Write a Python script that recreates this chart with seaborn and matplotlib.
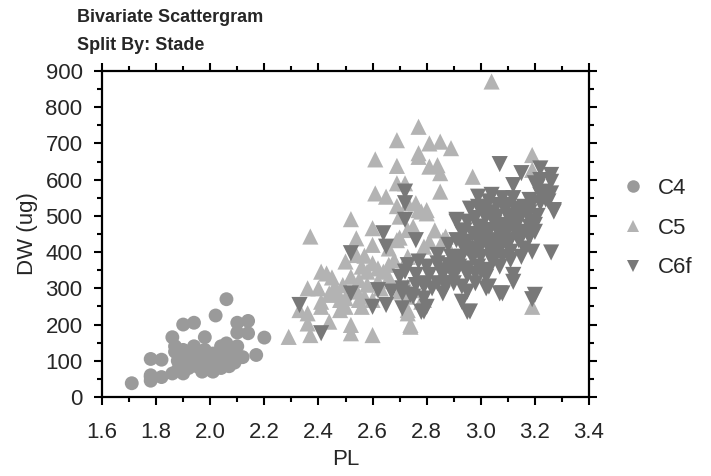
import matplotlib
matplotlib.use("Agg")
import matplotlib.pyplot as plt
from matplotlib.lines import Line2D
from matplotlib.ticker import MultipleLocator
import seaborn as sns
import pandas as pd

# ---- data ----
categories = ["C4", "C5", "C6f"]

c4_pl = [1.71, 1.78, 1.78, 1.78, 1.82, 1.78, 1.82, 1.86, 1.86, 1.87, 1.87, 1.88, 1.90, 1.90, 1.90,
         1.92, 1.94, 1.94, 1.94, 1.95, 1.96, 1.97, 1.98, 1.98, 1.98, 1.99, 2.00, 2.00, 2.01, 2.02,
         2.02, 2.03, 2.04, 2.05, 2.06, 2.06, 2.06, 2.07, 2.08, 2.10, 2.10, 2.10, 2.12, 2.14, 2.14,
         2.17, 2.20, 2.09, 1.92, 1.88, 1.96, 2.04, 2.01]
c4_dw = [38, 45, 60, 105, 103, 55, 55, 65, 165, 140, 125, 75, 200, 130, 65,
         80, 205, 140, 120, 85, 95, 70, 165, 130, 110, 85, 100, 75, 120, 225,
         90, 110, 80, 130, 270, 148, 100, 85, 120, 205, 178, 140, 110, 210, 176,
         116, 164, 95, 105, 100, 115, 140, 70]

c5_pl = [2.29, 2.33, 2.36, 2.36, 2.36, 2.37, 2.37, 2.41, 2.41, 2.41, 2.43, 2.44, 2.44, 2.44, 2.46,
         2.48, 2.49, 2.50, 2.50, 2.50, 2.52, 2.52, 2.52, 2.52, 2.53, 2.54, 2.54, 2.54, 2.55, 2.55,
         2.56, 2.57, 2.58, 2.60, 2.60, 2.60, 2.60, 2.61, 2.61, 2.64, 2.65, 2.68, 2.69, 2.69, 2.69,
         2.69, 2.69, 2.70, 2.70, 2.72, 2.73, 2.73, 2.73, 2.73, 2.73, 2.73, 2.73, 2.74, 2.74, 2.76,
         2.76, 2.77, 2.77, 2.77, 2.77, 2.78, 2.78, 2.79, 2.79, 2.80, 2.81, 2.81, 2.81, 2.84, 2.85,
         2.85, 2.85, 2.86, 2.87, 2.87, 2.89, 2.97, 3.04, 3.19, 3.19, 3.19, 2.80, 2.62, 2.66,
         2.45, 2.47, 2.56, 2.58, 2.62, 2.66, 2.63, 2.48, 2.40, 2.57, 2.70, 2.75, 2.66, 2.60, 2.83]
c5_dw = [166, 240, 231, 203, 300, 171, 443, 263, 249, 346, 341, 282, 208, 286, 305,
         268, 309, 374, 273, 249, 491, 199, 176, 332, 291, 438, 392, 295, 323, 268,
         249, 277, 346, 466, 369, 268, 171, 656, 562, 346, 553, 378, 709, 638, 590,
         527, 433, 498, 291, 590, 461, 387, 535, 305, 277, 240, 231, 194, 199, 295,
         535, 746, 673, 663, 516, 263, 512, 268, 415, 507, 700, 636, 429, 640, 705,
         618, 567, 433, 443, 429, 687, 608, 871, 668, 627, 249, 516, 355, 365,
         330, 290, 360, 310, 320, 330, 300, 240, 300, 390, 440, 470, 410, 420, 460]

c6f_pl = [2.33, 2.41, 2.52, 2.52, 2.60, 2.62, 2.64, 2.65, 2.65, 2.67, 2.70, 2.71, 2.71, 2.71,
          2.72, 2.72, 2.72, 2.72, 2.73, 2.74, 2.75, 2.76, 2.76, 2.76, 2.77, 2.78, 2.79, 2.79, 2.79,
          2.79, 2.80, 2.80, 2.81, 2.84, 2.84, 2.84, 2.86, 2.86, 2.87, 2.87, 2.88, 2.89, 2.90, 2.90,
          2.91, 2.91, 2.91, 2.91, 2.92, 2.93, 2.93, 2.93, 2.95, 2.95, 2.95, 2.95, 2.95, 2.95, 2.95,
          2.96, 2.97, 2.98, 2.98, 2.98, 2.99, 2.99, 2.99, 2.99, 2.99, 3.00, 3.02, 3.02, 3.02, 3.02,
          3.02, 3.03, 3.03, 3.03, 3.03, 3.03, 3.04, 3.04, 3.06, 3.06, 3.06, 3.07, 3.07, 3.07, 3.07,
          3.07, 3.08, 3.08, 3.08, 3.09, 3.10, 3.10, 3.11, 3.11, 3.11, 3.12, 3.12, 3.12, 3.12, 3.13,
          3.13, 3.14, 3.14, 3.15, 3.15, 3.16, 3.16, 3.18, 3.18, 3.19, 3.19, 3.19, 3.19, 3.20, 3.20,
          3.20, 3.22, 3.22, 3.22, 3.22, 3.23, 3.26, 3.26, 3.26, 3.26, 3.27, 3.27,
          2.97, 3.00, 3.05, 3.08, 3.10, 3.13, 3.15, 3.17, 3.05, 3.01, 2.93, 3.09, 3.16, 3.04, 2.96,
          3.11, 3.14, 3.18, 3.21, 3.24, 2.88, 2.94, 3.00, 3.06,
          2.93, 2.97, 3.01, 3.03, 3.07, 3.12, 3.14, 3.18, 3.21, 3.09, 2.99, 3.05, 2.90, 2.85,
          2.82, 3.00, 3.15, 3.10, 3.25, 3.20]
c6f_dw = [254, 176, 397, 286, 249, 295, 452, 415, 254, 291, 332, 286, 300, 245,
          567, 535, 489, 346, 364, 282, 277, 433, 309, 337, 374, 235, 272, 314, 305,
          236, 360, 249, 337, 392, 369, 314, 337, 286, 305, 314, 364, 387, 332, 314,
          484, 489, 433, 378, 360, 305, 387, 263, 410, 355, 337, 291, 235, 429, 484,
          236, 383, 494, 341, 314, 553, 525, 433, 406, 360, 387, 525, 498, 461, 332,
          300, 456, 433, 410, 351, 305, 558, 378, 530, 498, 461, 643, 429, 406, 360,
          286, 387, 286, 549, 516, 498, 461, 433, 401, 378, 585, 549, 337, 318, 516,
          452, 493, 433, 618, 387, 525, 456, 544, 470, 535, 484, 401, 270, 475, 456,
          282, 631, 599, 558, 535, 567, 613, 594, 562, 399, 516, 512,
          450, 470, 480, 440, 420, 470, 440, 505, 420, 440, 455, 475, 410, 510, 520,
          500, 520, 510, 580, 545, 420, 460, 415, 395,
          420, 400, 505, 540, 470, 480, 455, 440, 500, 450, 470, 395, 350, 350,
          300, 350, 500, 530, 540, 590]

colors = {"C4": "#9a9a9a", "C5": "#b3b3b3", "C6f": "#787878"}
markers = {"C4": "o", "C5": "^", "C6f": "v"}
sizes = {"C4": 100, "C5": 135, "C6f": 135}

df = pd.concat([
    pd.DataFrame({"PL": c4_pl, "DW": c4_dw, "Stade": "C4"}),
    pd.DataFrame({"PL": c5_pl, "DW": c5_dw, "Stade": "C5"}),
    pd.DataFrame({"PL": c6f_pl, "DW": c6f_dw, "Stade": "C6f"}),
], ignore_index=True)

sns.set_style("ticks")
plt.rcParams["font.family"] = ["Liberation Sans", "DejaVu Sans"]

fig = plt.figure(figsize=(7.11, 4.76), dpi=100)
ax = fig.add_axes([102 / 711, 1 - 397 / 476, (589 - 102) / 711, (397 - 71) / 476])

for cat in categories:
    sub = df[df["Stade"] == cat]
    sns.scatterplot(data=sub, x="PL", y="DW", color=colors[cat], marker=markers[cat],
                    s=sizes[cat], linewidth=0, edgecolor="none", alpha=1, ax=ax, legend=False)

ax.set_xlim(1.6, 3.4)
ax.set_ylim(0, 900)
ax.xaxis.set_major_locator(MultipleLocator(0.2))
ax.xaxis.set_minor_locator(MultipleLocator(0.1))
ax.yaxis.set_major_locator(MultipleLocator(100))
ax.yaxis.set_minor_locator(MultipleLocator(50))
ax.set_xticklabels([f"{v:.1f}" for v in ax.get_xticks()])

for s in ax.spines.values():
    s.set_visible(True)
    s.set_linewidth(1.6)
    s.set_color("black")
ax.tick_params(which="both", direction="out", top=True, right=True,
               labeltop=False, labelright=False, color="black", width=1.5)
ax.tick_params(which="major", length=6, labelsize=16)
ax.tick_params(axis="x", which="major", pad=12)
ax.tick_params(axis="y", which="major", pad=8)
ax.tick_params(which="minor", length=3.5)

ax.set_xlabel("PL", fontsize=16, labelpad=4)
ax.set_ylabel("DW (ug)", fontsize=16, labelpad=5)

fig.text(77 / 711, 1 - 17 / 476, "Bivariate Scattergram", fontsize=13, fontweight="bold",
         ha="left", va="center")
fig.text(77 / 711, 1 - 45 / 476, "Split By: Stade", fontsize=13, fontweight="bold",
         ha="left", va="center")

handles = [Line2D([], [], linestyle="none", marker=markers[c], color=colors[c],
                  markersize=9, markeredgewidth=0) for c in categories]
fig.legend(handles, categories, loc="center left", bbox_to_anchor=(600 / 711, 1 - 228 / 476),
           frameon=False, fontsize=16, handletextpad=0.5, labelspacing=0.85,
           handlelength=1.2)

fig.savefig("out.png", dpi=100)
